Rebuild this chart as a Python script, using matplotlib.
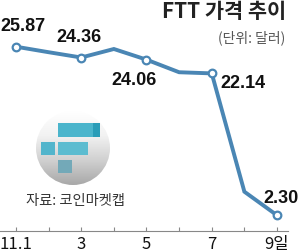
import matplotlib
matplotlib.use("Agg")
import matplotlib.pyplot as plt
import numpy as np
from matplotlib.patches import Circle, Rectangle

# ---- data ----
days = [1, 2, 3, 4, 5, 6, 7, 8, 9]
prices = [25.87, 25.10, 24.36, 25.55, 24.06, 22.30, 22.14, 5.60, 2.30]
labeled_days = [1, 3, 5, 7, 9]
label_texts = ["25.87", "24.36", "24.06", "22.14", "2.30"]
tick_labels = ["11.1", "", "3", "", "5", "", "7", "", "9일"]
title = "FTT 가격 추이"
unit = "(단위: 달러)"
source = "자료: 코인마켓캡"

NUM_FONT = ["Liberation Sans Narrow", "Liberation Sans", "DejaVu Sans"]
KR_FONT = ["Noto Sans CJK KR", "DejaVu Sans"]
LINE_C = "#4a86b4"

W, H = 298, 252
fig = plt.figure(figsize=(W / 100, H / 100), dpi=100)
fig.patch.set_facecolor("white")

# main axes: bottom spine at y=231 px from top
ax = fig.add_axes([0, 21 / H, 288 / W, 1 - 21 / H])
ax.set_xlim(0.51, 9.337)
ax.set_ylim(0.105, 32.40)
ax.set_facecolor("none")
for s in ["top", "right", "left"]:
    ax.spines[s].set_visible(False)
ax.spines["bottom"].set_color("#888888")
ax.spines["bottom"].set_linewidth(0.8)
ax.set_yticks([])
ax.set_xticks(days)
ax.set_xticklabels(tick_labels)
ax.tick_params(axis="x", direction="in", length=3, width=0.8, color="#888888",
               pad=3.5, labelsize=12, labelcolor="#111111")
for t in ax.get_xticklabels():
    t.set_family(["Liberation Sans Narrow", "Noto Sans CJK KR", "DejaVu Sans"])

ax.plot(days, prices, color=LINE_C, lw=2.8, solid_joinstyle="miter", zorder=3)
mk_x = [d for d in days if d in labeled_days]
mk_y = [p for d, p in zip(days, prices) if d in labeled_days]
ax.plot(mk_x, mk_y, ls="none", marker="o", ms=5.5, mfc="white", mec=LINE_C,
        mew=1.6, zorder=4)

offsets = [(7, 20), (-2, 20), (-12, -21), (31, -10), (4, 17)]
for x, y, txt, off in zip(mk_x, mk_y, label_texts, offsets):
    ax.annotate(txt, (x, y), xytext=off, textcoords="offset pixels",
                ha="center", va="center", fontsize=13, fontweight="bold",
                family=NUM_FONT, color="#111111")

# overlay axes in pixel coords for decorations
ov = fig.add_axes([0, 0, 1, 1])
ov.set_xlim(0, W)
ov.set_ylim(H, 0)
ov.axis("off")
ov.patch.set_alpha(0)

ov.text(286, 12, title, ha="right", va="center", fontsize=15,
        fontweight="bold", family=KR_FONT, color="#222222")
ov.text(285, 38, unit, ha="right", va="center", fontsize=10,
        family=KR_FONT, color="#555555")
ov.text(75, 201, source, ha="center", va="center", fontsize=10.3,
        family=KR_FONT, color="#333333")

# logo
cx, cy, r = 73, 148, 37
grad = np.linspace(0, 1, 256).reshape(-1, 1)
cmap = matplotlib.colors.LinearSegmentedColormap.from_list(
    "g", ["#ffffff", "#f2f2f2", "#d0d0d0", "#a8a8a8"])
im = ov.imshow(grad, extent=[cx - r, cx + r, cy + r, cy - r], cmap=cmap,
               aspect="auto", zorder=1, origin="upper")
clip = Circle((cx, cy), r, transform=ov.transData)
im.set_clip_path(clip)
ov.add_patch(Rectangle((58, 123), 42, 14, color="#4bb5cc", zorder=2, lw=0))
ov.add_patch(Rectangle((93, 123), 7, 14, color="#2a9db8", zorder=2, lw=0))
ov.add_patch(Rectangle((41, 142), 14, 13, color="#52b5cc", zorder=2, lw=0))
ov.add_patch(Rectangle((58, 142), 30, 13, color="#5cbcd0", zorder=2, lw=0))
ov.add_patch(Rectangle((58, 160), 14, 13, color="#73a9b8", zorder=2, lw=0))

fig.savefig("out.png", dpi=100, facecolor="white")
